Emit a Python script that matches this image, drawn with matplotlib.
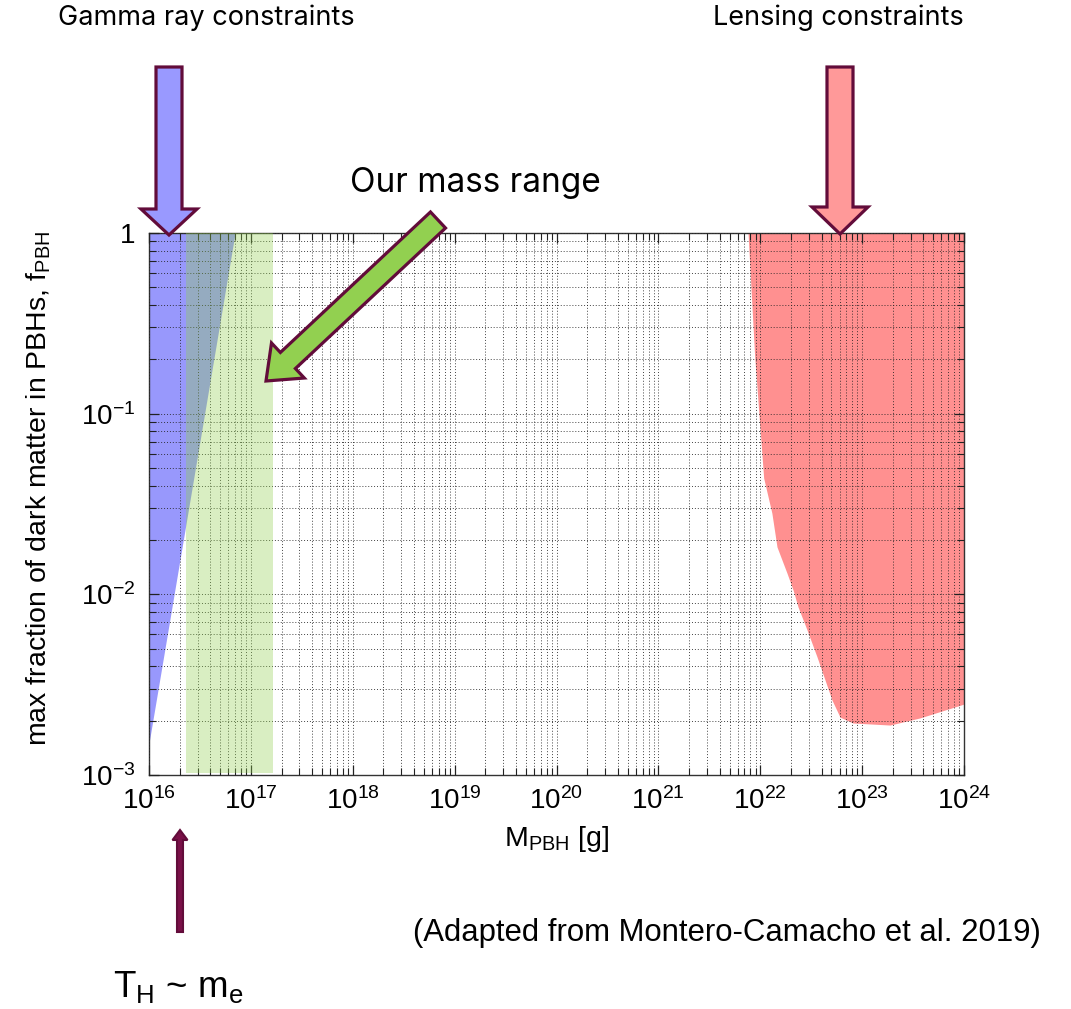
import numpy as np
import matplotlib
matplotlib.use("Agg")
import matplotlib.pyplot as plt
from matplotlib.patches import Polygon
from matplotlib.ticker import FixedLocator, FixedFormatter, LogLocator, NullFormatter

# ---------------- data ----------------
x_ticks = [1e16, 1e17, 1e18, 1e19, 1e20, 1e21, 1e22, 1e23, 1e24]
x_tick_labels = ['10$^{16}$', '10$^{17}$', '10$^{18}$', '10$^{19}$', '10$^{20}$',
                 '10$^{21}$', '10$^{22}$', '10$^{23}$', '10$^{24}$']
y_ticks = [1e-3, 1e-2, 1e-1, 1.0]
y_tick_labels = ['10$^{-3}$', '10$^{-2}$', '10$^{-1}$', '1']

# gamma-ray constraint boundary (excluded above/left of line)
gamma_mass = [1.0e16, 7.0e16]
gamma_f = [1.5e-3, 1.0]

# lensing constraint boundary (excluded above the curve)
lens_mass = [7.59e21, 8.1e21, 8.8e21, 9.7e21, 1.08e22, 1.30e22, 1.46e22, 1.83e22,
             2.10e22, 2.35e22, 2.88e22, 3.61e22, 4.32e22, 5.06e22, 6.07e22, 8.13e22,
             1.88e23, 3.70e23, 1.0e24]
lens_f = [1.0, 0.5, 0.211, 0.1, 0.0441, 0.0282, 0.0183, 0.0131,
          0.01057, 0.00851, 0.00635, 0.0045, 0.00336, 0.0026, 0.00209, 0.00194,
          0.00189, 0.00207, 0.00247]

# our mass range band
our_range = [2.3e16, 1.65e17]

# ---------------- style ----------------
plt.rcParams['font.family'] = ['Liberation Sans', 'DejaVu Sans']
plt.rcParams['mathtext.fontset'] = 'custom'
plt.rcParams['mathtext.rm'] = 'Liberation Sans'
plt.rcParams['mathtext.it'] = 'Liberation Sans:italic'
plt.rcParams['mathtext.default'] = 'regular'

W, H = 1071, 1009
fig = plt.figure(figsize=(W / 100, H / 100), dpi=100)
fig.patch.set_facecolor('white')

ax_l, ax_r, ax_t, ax_b = 149, 964, 233, 775
ax = fig.add_axes([ax_l / W, 1 - ax_b / H, (ax_r - ax_l) / W, (ax_b - ax_t) / H])
ax.set_xscale('log')
ax.set_yscale('log')
ax.set_xlim(1e16, 1e24)
ax.set_ylim(1e-3, 1.0)

# fills
ax.fill_between(gamma_mass, gamma_f, 1.0, color='#9898fc', lw=0, zorder=1)
ax.fill_between(lens_mass, lens_f, 1.0, color='#ff9090', lw=0, zorder=1)
ax.axvspan(our_range[0], our_range[1], ymin=0.004, ymax=1.0,
           color='#92d050', alpha=0.35, lw=0, zorder=3)

# ticks and grid
ax.xaxis.set_major_locator(FixedLocator(x_ticks))
ax.xaxis.set_major_formatter(FixedFormatter(x_tick_labels))
ax.xaxis.set_minor_locator(LogLocator(base=10, subs=np.arange(2, 10), numticks=100))
ax.xaxis.set_minor_formatter(NullFormatter())
ax.yaxis.set_major_locator(FixedLocator(y_ticks))
ax.yaxis.set_major_formatter(FixedFormatter(y_tick_labels))
ax.yaxis.set_minor_locator(LogLocator(base=10, subs=np.arange(2, 10), numticks=100))
ax.yaxis.set_minor_formatter(NullFormatter())

ax.grid(True, which='both', color='#222222', linestyle=(0, (1, 2.0)), linewidth=0.7, alpha=0.85)
ax.set_axisbelow(False)
for gl in ax.get_xgridlines() + ax.get_ygridlines():
    gl.set_zorder(2)

ax.tick_params(which='both', direction='in', top=True, right=True, colors='#222222',
               labelcolor='black')
ax.tick_params(which='major', length=7, width=0.9, labelsize=20)
ax.tick_params(which='minor', length=5, width=0.8)
ax.tick_params(axis='x', which='major', pad=9)
ax.tick_params(axis='y', which='major', pad=10)
for s in ax.spines.values():
    s.set_color('#333333')
    s.set_linewidth(1.0)

ax.set_xlabel('M$_{PBH}$ [g]', fontsize=20.5, labelpad=6)
ax.set_ylabel('max fraction of dark matter in PBHs, f$_{PBH}$', fontsize=20.5)
ax.yaxis.set_label_coords((53 - ax_l) / (ax_r - ax_l), (ax_b - 488) / (ax_b - ax_t))

# ---------------- overlay (annotations) ----------------
ov = fig.add_axes([0, 0, 1, 1], zorder=10)
ov.set_xlim(0, W)
ov.set_ylim(H, 0)
ov.axis('off')
ov.patch.set_alpha(0)

MAROON = '#620c3a'


def arrow_poly(tail, tip, sw, hw, hl):
    t = np.array(tail, float)
    p = np.array(tip, float)
    d = p - t
    u = d / np.hypot(*d)
    n = np.array([-u[1], u[0]])
    b = p - u * hl
    pts = [t + n * sw / 2, b + n * sw / 2, b + n * hw / 2, p,
           b - n * hw / 2, b - n * sw / 2, t - n * sw / 2]
    return np.array(pts)


def draw_arrow(tail, tip, sw, hw, hl, fc, lw=2.3):
    poly = Polygon(arrow_poly(tail, tip, sw, hw, hl), closed=True, facecolor=fc,
                   edgecolor=MAROON, linewidth=lw, joinstyle='miter')
    ov.add_patch(poly)


draw_arrow((169, 67), (169, 235), 26, 56, 26, '#9999ff')
draw_arrow((840, 67), (840, 234), 26, 56, 27, '#ff9999')
draw_arrow((438, 220), (266, 381), 22, 48, 30, '#92d050')
draw_arrow((180, 932), (180, 830), 6, 15, 10, '#7a1048', lw=1.5)

TF = ['Inter', 'DejaVu Sans']
ov.text(206, 18, 'Gamma ray constraints', ha='center', va='center', fontsize=19.5, family=TF)
ov.text(838, 18, 'Lensing constraints', ha='center', va='center', fontsize=19.5, family=TF)
ov.text(475, 183, 'Our mass range', ha='center', va='center', fontsize=24, family=TF)
ov.text(178, 987, 'T$_{H}$ ~ m$_{e}$', ha='center', va='center', fontsize=26.5)
ov.text(727, 933, '(Adapted from Montero-Camacho et al. 2019)', ha='center', va='center',
        fontsize=22.4)

fig.savefig('out.png', dpi=100)
